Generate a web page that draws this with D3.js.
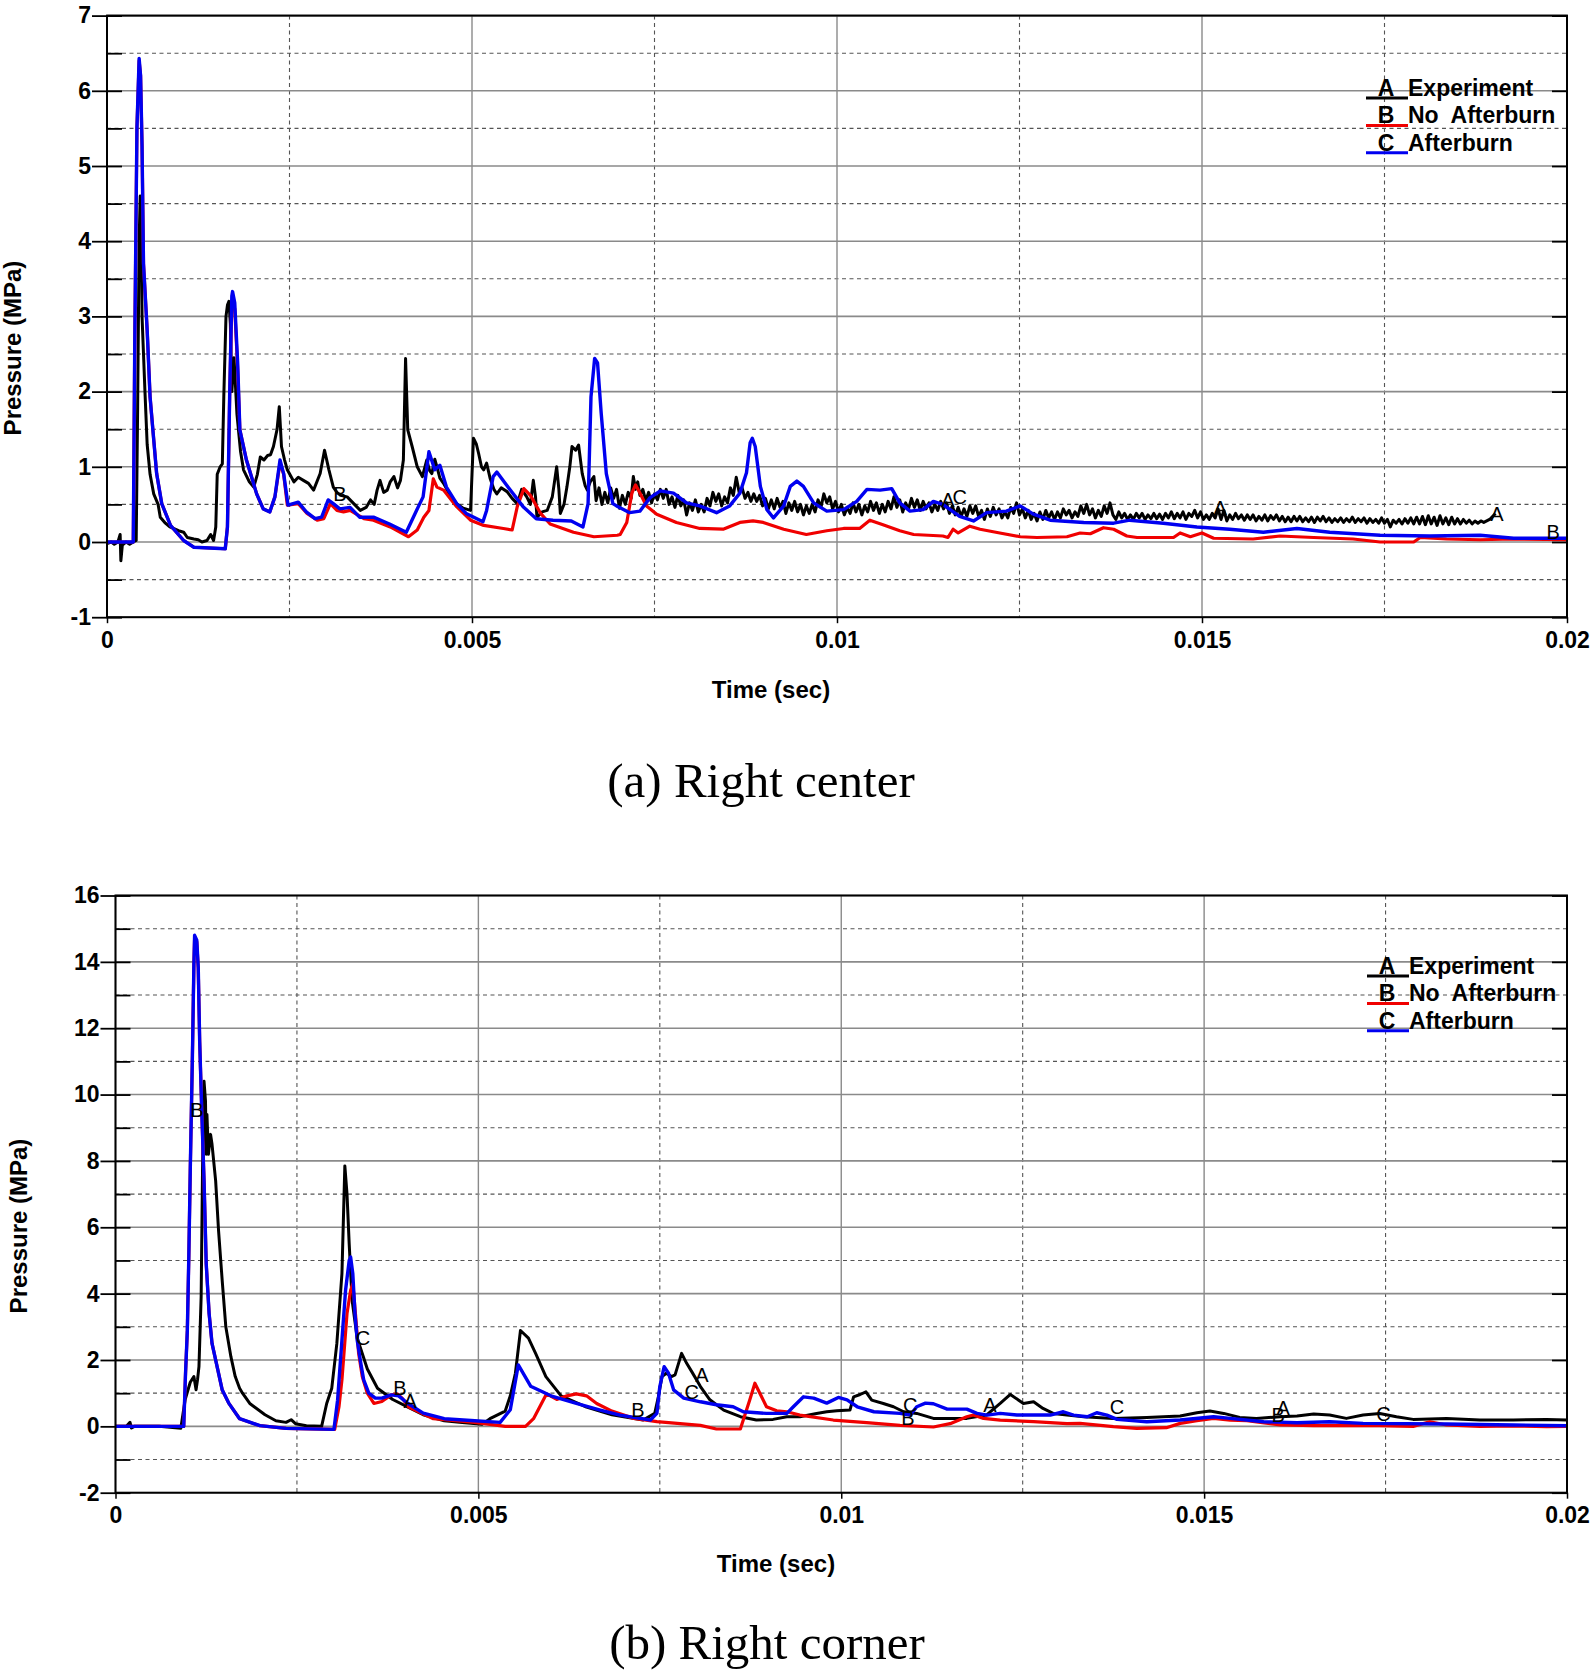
<!DOCTYPE html>
<html>
<head>
<meta charset="utf-8">
<script src="https://cdn.jsdelivr.net/npm/d3@7"></script>
<style>
  body { margin: 0; background: #fff; }
  text { font-family: "Liberation Sans", Arial, sans-serif; }
</style>
</head>
<body>
<script>
// ---- data (time in ms, pressure in MPa) ----
var xTickValues = [0, 5, 10, 15, 20];
var xTickLabels = ["0", "0.005", "0.01", "0.015", "0.02"];
var topYTicks = [-1, 0, 1, 2, 3, 4, 5, 6, 7];
var botYTicks = [-2, 0, 2, 4, 6, 8, 10, 12, 14, 16];

var seriesKeys = ["A", "B", "C"];
var seriesNames = ["Experiment", "No  Afterburn", "Afterburn"];
var captions = ["(a) Right center", "(b) Right corner"];

// (a) Right center
var topExperiment = [
  [0,-0.02],[0.06,0.0],[0.10,-0.03],[0.15,0.0],[0.18,0.10],[0.19,-0.25],[0.21,-0.04],[0.26,0.0],[0.31,-0.03],[0.36,0.0],
  [0.40,0.02],[0.42,1.8],[0.44,4.0],[0.455,4.6],[0.47,4.3],[0.48,3.0],[0.50,2.5],[0.52,2.0],[0.55,1.3],[0.59,0.9],
  [0.64,0.64],[0.70,0.5],[0.73,0.33],[0.80,0.25],[0.86,0.2],[0.91,0.18],[0.98,0.15],[1.05,0.13],[1.10,0.06],[1.19,0.04],
  [1.25,0.03],[1.30,0.0],[1.37,0.02],[1.42,0.10],[1.46,0.02],[1.49,0.2],[1.51,0.9],[1.55,1.0],[1.58,1.04],[1.60,1.93],
  [1.63,3.0],[1.65,3.15],[1.67,3.2],[1.69,2.9],[1.71,2.0],[1.74,2.45],[1.78,1.7],[1.83,1.2],[1.87,0.96],[1.95,0.8],
  [2.01,0.73],[2.06,0.9],[2.10,1.13],[2.15,1.09],[2.20,1.15],[2.24,1.16],[2.28,1.27],[2.33,1.5],[2.36,1.8],[2.39,1.27],
  [2.43,1.1],[2.47,0.96],[2.56,0.8],[2.62,0.86],[2.69,0.82],[2.76,0.78],[2.83,0.69],[2.92,0.91],[2.98,1.22],[3.04,0.96],
  [3.10,0.73],[3.15,0.66],[3.20,0.62],[3.29,0.6],[3.38,0.51],[3.47,0.42],[3.55,0.46],[3.61,0.56],[3.66,0.5],[3.70,0.69],
  [3.74,0.82],[3.79,0.66],[3.84,0.69],[3.88,0.8],[3.93,0.87],[3.98,0.72],[4.02,0.82],[4.06,1.09],[4.08,2.0],[4.09,2.44],
  [4.11,1.8],[4.12,1.49],[4.18,1.27],[4.25,1.0],[4.32,0.87],[4.38,1.09],[4.42,0.95],[4.45,0.91],[4.49,1.1],[4.52,1.0],
  [4.56,0.85],[4.61,0.78],[4.70,0.62],[4.79,0.51],[4.88,0.45],[4.98,0.42],[5.00,0.9],[5.02,1.38],[5.06,1.3],[5.09,1.18],
  [5.13,1.0],[5.16,0.96],[5.20,1.05],[5.25,0.84],[5.30,0.7],[5.34,0.64],[5.40,0.72],[5.48,0.67],[5.55,0.58],[5.62,0.51],
  [5.68,0.7],[5.75,0.6],[5.80,0.5],[5.84,0.82],[5.87,0.6],[5.89,0.33],[5.96,0.4],[6.03,0.42],[6.10,0.6],[6.16,1.0],
  [6.19,0.7],[6.21,0.38],[6.26,0.5],[6.30,0.73],[6.34,1.0],[6.37,1.27],[6.42,1.22],[6.46,1.29],[6.51,0.91],[6.55,0.75],
  [6.58,0.69],[6.62,0.8],[6.67,0.87],
  [6.70,0.55],[6.74,0.72],[6.78,0.50],[6.82,0.66],[6.86,0.52],[6.90,0.72],[6.94,0.58],[6.98,0.70],[7.02,0.45],[7.06,0.62],
  [7.10,0.50],[7.14,0.66],[7.18,0.58],[7.21,0.87],[7.24,0.70],[7.27,0.80],[7.30,0.62],[7.34,0.70],[7.38,0.55],[7.42,0.66],
  [7.46,0.52],[7.50,0.64],[7.54,0.56],[7.58,0.70],[7.62,0.58],[7.66,0.70],[7.70,0.50],[7.74,0.60],[7.78,0.46],[7.82,0.62],
  [7.86,0.48],[7.90,0.56],[7.94,0.36],[7.98,0.52],[8.02,0.42],[8.06,0.56],[8.10,0.40],[8.14,0.50],[8.18,0.40],[8.22,0.58],
  [8.26,0.48],[8.30,0.66],[8.34,0.54],[8.38,0.64],[8.42,0.48],[8.46,0.60],[8.50,0.52],[8.54,0.72],[8.58,0.62],[8.62,0.86],
  [8.66,0.66],[8.70,0.72],[8.74,0.58],[8.78,0.66],[8.82,0.54],[8.86,0.64],[8.90,0.54],[8.94,0.62],[8.98,0.48],[9.02,0.58],
  [9.06,0.44],[9.10,0.56],[9.14,0.44],[9.18,0.58],[9.22,0.46],[9.26,0.54],[9.30,0.38],[9.34,0.52],[9.38,0.42],[9.42,0.54],
  [9.46,0.40],[9.50,0.50],[9.54,0.36],[9.58,0.48],[9.62,0.38],[9.66,0.50],[9.70,0.40],[9.74,0.56],[9.78,0.46],[9.82,0.64],
  [9.86,0.52],[9.90,0.60],[9.94,0.44],[9.98,0.54],[10.02,0.40],[10.06,0.50],[10.10,0.36],[10.14,0.46],[10.18,0.38],[10.22,0.52],
  [10.26,0.40],[10.30,0.50],[10.34,0.36],[10.38,0.48],[10.42,0.40],[10.46,0.54],[10.50,0.42],[10.54,0.52],[10.58,0.38],[10.62,0.50],
  [10.66,0.40],[10.70,0.54],[10.74,0.44],[10.78,0.60],[10.82,0.46],[10.86,0.56],[10.90,0.40],[10.94,0.52],[10.98,0.44],[11.02,0.58],
  [11.06,0.46],[11.10,0.56],[11.14,0.42],[11.18,0.54],[11.22,0.44],[11.26,0.52],[11.30,0.40],[11.34,0.50],[11.38,0.42],[11.42,0.54],
  [11.46,0.44],[11.50,0.52],[11.54,0.38],[11.58,0.48],[11.62,0.36],[11.66,0.46],[11.70,0.34],[11.74,0.44],[11.78,0.34],[11.82,0.48],
  [11.86,0.38],[11.90,0.48],[11.94,0.34],[11.98,0.42],[12.02,0.30],[12.06,0.44],[12.10,0.34],[12.14,0.46],[12.18,0.36],[12.22,0.44],
  [12.26,0.32],[12.30,0.40],[12.34,0.32],[12.38,0.46],[12.42,0.38],[12.46,0.52],[12.50,0.36],[12.54,0.44],[12.58,0.32],[12.62,0.42],
  [12.66,0.30],[12.70,0.38],[12.74,0.28],[12.78,0.40],[12.82,0.30],[12.86,0.42],[12.90,0.32],[12.94,0.40],[12.98,0.30],[13.02,0.40],
  [13.06,0.32],[13.10,0.44],[13.14,0.36],[13.18,0.42],[13.22,0.32],[13.26,0.40],[13.30,0.34],[13.34,0.48],[13.38,0.38],[13.42,0.50],
  [13.46,0.36],[13.50,0.44],[13.54,0.32],[13.58,0.42],[13.62,0.34],[13.66,0.48],[13.70,0.38],[13.74,0.52],[13.78,0.36],[13.82,0.30],
  [13.86,0.40],[13.90,0.32],[13.94,0.38],[13.98,0.30],[14.02,0.36],[14.06,0.30],[14.10,0.38],[14.14,0.32],[14.18,0.38],[14.22,0.30],
  [14.26,0.36],[14.30,0.31],[14.34,0.38],[14.38,0.31],[14.42,0.37],[14.46,0.30],[14.50,0.38],[14.54,0.32],[14.58,0.40],[14.62,0.31],
  [14.66,0.38],[14.70,0.32],[14.74,0.40],[14.78,0.30],[14.82,0.38],[14.86,0.34],[14.90,0.42],[14.94,0.32],[14.98,0.40],[15.02,0.30],
  [15.06,0.36],[15.10,0.30],[15.14,0.38],[15.18,0.32],[15.22,0.44],[15.26,0.30],[15.30,0.42],[15.34,0.28],[15.38,0.36],[15.42,0.30],
  [15.46,0.38],[15.50,0.31],[15.54,0.36],[15.58,0.29],[15.62,0.36],[15.66,0.30],[15.70,0.36],[15.74,0.28],[15.78,0.34],[15.82,0.29],
  [15.86,0.36],[15.90,0.28],[15.94,0.35],[15.98,0.30],[16.02,0.36],[16.06,0.28],[16.10,0.34],[16.14,0.27],[16.18,0.33],[16.22,0.27],
  [16.26,0.34],[16.30,0.28],[16.34,0.34],[16.38,0.27],[16.42,0.32],[16.46,0.27],[16.50,0.33],[16.54,0.26],[16.58,0.33],[16.62,0.28],
  [16.66,0.34],[16.70,0.27],[16.74,0.32],[16.78,0.26],[16.82,0.31],[16.86,0.27],[16.90,0.32],[16.94,0.26],[16.98,0.31],[17.02,0.27],
  [17.06,0.33],[17.10,0.26],[17.14,0.31],[17.18,0.27],[17.22,0.32],[17.26,0.25],[17.30,0.31],[17.34,0.26],[17.38,0.30],[17.42,0.25],
  [17.46,0.32],[17.50,0.25],[17.54,0.30],[17.58,0.20],[17.62,0.29],[17.66,0.25],[17.70,0.30],[17.74,0.24],[17.78,0.31],[17.82,0.25],
  [17.86,0.32],[17.90,0.24],[17.94,0.33],[17.98,0.24],[18.02,0.34],[18.06,0.23],[18.10,0.35],[18.14,0.24],[18.18,0.33],[18.22,0.22],
  [18.26,0.35],[18.30,0.24],[18.34,0.32],[18.38,0.23],[18.42,0.33],[18.46,0.24],[18.50,0.31],[18.54,0.24],[18.58,0.30],[18.62,0.25],
  [18.66,0.29],[18.70,0.24],[18.74,0.28],[18.78,0.25],[18.82,0.28],[18.86,0.26],[18.90,0.28],[18.94,0.30],[18.98,0.34],[19.02,0.38]
];

var topNoAfterburn = [
  [0,0],[0.36,0],[0.38,2.6],[0.41,5.5],[0.44,6.4],[0.46,6.2],[0.48,5.27],[0.50,3.7],[0.55,2.82],[0.59,1.93],
  [0.64,1.36],[0.68,0.91],[0.75,0.51],[0.87,0.22],[1.05,0.02],[1.19,-0.07],[1.62,-0.09],[1.65,0.2],[1.68,1.93],[1.71,3.2],
  [1.75,3.1],[1.79,2.3],[1.82,1.49],[1.91,1.09],[2.05,0.64],[2.14,0.44],[2.23,0.40],[2.30,0.60],[2.37,1.05],[2.42,0.9],
  [2.47,0.49],[2.62,0.51],[2.74,0.38],[2.88,0.29],[2.97,0.31],[3.06,0.51],[3.15,0.42],[3.24,0.40],[3.33,0.42],[3.52,0.31],
  [3.65,0.29],[3.88,0.20],[4.13,0.07],[4.25,0.16],[4.34,0.33],[4.41,0.42],[4.47,0.84],[4.52,0.73],[4.61,0.69],[4.79,0.47],
  [4.98,0.29],[5.16,0.22],[5.43,0.18],[5.55,0.16],[5.62,0.47],[5.71,0.71],[5.80,0.62],[5.94,0.38],[6.07,0.24],[6.39,0.13],
  [6.67,0.07],[6.99,0.09],[7.03,0.10],[7.12,0.26],[7.19,0.65],[7.24,0.76],[7.30,0.65],[7.39,0.48],[7.53,0.37],[7.80,0.26],
  [8.12,0.18],[8.44,0.17],[8.67,0.26],[8.85,0.28],[8.99,0.26],[9.27,0.17],[9.58,0.10],[9.86,0.15],[10.09,0.18],[10.31,0.18],
  [10.45,0.29],[10.63,0.23],[10.86,0.15],[11.05,0.10],[11.45,0.08],[11.52,0.06],[11.59,0.17],[11.66,0.12],[11.82,0.21],[11.96,0.17],
  [12.23,0.12],[12.51,0.07],[12.74,0.06],[13.15,0.07],[13.33,0.12],[13.47,0.11],[13.65,0.19],[13.79,0.17],[13.97,0.08],[14.11,0.06],
  [14.61,0.06],[14.70,0.12],[14.84,0.07],[15.00,0.12],[15.16,0.05],[15.70,0.04],[16.07,0.08],[16.53,0.06],[17.07,0.04],[17.44,0.00],
  [17.90,0.00],[17.99,0.06],[18.35,0.04],[18.81,0.03],[19.27,0.04],[20.0,0.03]
];

var topAfterburn = [
  [0,0],[0.36,0],[0.38,2.6],[0.41,5.5],[0.44,6.43],[0.46,6.2],[0.48,5.27],[0.50,3.7],[0.55,2.82],[0.59,1.93],
  [0.64,1.36],[0.68,0.91],[0.75,0.51],[0.87,0.22],[1.05,0.02],[1.19,-0.07],[1.62,-0.09],[1.65,0.2],[1.68,1.93],[1.71,3.27],
  [1.72,3.33],[1.75,3.18],[1.79,2.38],[1.82,1.49],[1.91,1.09],[2.05,0.64],[2.14,0.44],[2.23,0.40],[2.30,0.60],[2.37,1.09],
  [2.42,0.91],[2.48,0.49],[2.62,0.53],[2.73,0.40],[2.85,0.31],[2.94,0.33],[3.03,0.56],[3.10,0.51],[3.19,0.44],[3.33,0.46],
  [3.46,0.33],[3.65,0.33],[3.87,0.24],[4.10,0.13],[4.24,0.42],[4.33,0.60],[4.41,1.20],[4.49,0.96],[4.56,1.02],[4.65,0.73],
  [4.79,0.51],[4.92,0.38],[5.15,0.27],[5.20,0.42],[5.29,0.87],[5.34,0.93],[5.47,0.76],[5.70,0.47],[5.88,0.31],[6.11,0.29],
  [6.36,0.28],[6.52,0.20],[6.59,0.51],[6.63,1.93],[6.68,2.44],[6.72,2.38],[6.77,1.71],[6.84,0.91],[6.93,0.51],[6.98,0.48],
  [7.16,0.39],[7.30,0.41],[7.44,0.59],[7.58,0.68],[7.76,0.65],[7.94,0.52],[8.12,0.48],[8.35,0.39],[8.53,0.48],[8.67,0.65],
  [8.76,0.92],[8.81,1.32],[8.84,1.38],[8.88,1.27],[8.95,0.74],[9.04,0.43],[9.13,0.32],[9.27,0.48],[9.36,0.74],[9.45,0.81],
  [9.54,0.74],[9.68,0.52],[9.86,0.41],[10.09,0.43],[10.27,0.54],[10.41,0.70],[10.59,0.69],[10.75,0.71],[10.86,0.52],[11.00,0.41],
  [11.18,0.43],[11.32,0.54],[11.45,0.50],[11.68,0.34],[11.87,0.28],[12.05,0.39],[12.32,0.41],[12.51,0.48],[12.69,0.37],[12.92,0.29],
  [13.38,0.26],[13.79,0.25],[14.01,0.29],[14.47,0.25],[14.93,0.20],[15.38,0.17],[15.84,0.13],[16.30,0.18],[16.75,0.13],[17.44,0.09],
  [18.12,0.08],[18.81,0.09],[19.27,0.05],[20.0,0.05]
];

var topMarkers = [["B",3.19,0.64],["A",11.52,0.56],["C",11.68,0.60],["A",15.25,0.45],["A",19.04,0.37],["B",19.81,0.13]];

// (b) Right corner
var botExperiment = [
  [0,0],[0.15,0.0],[0.20,0.12],[0.22,-0.05],[0.26,0.0],[0.60,0.0],[0.90,-0.06],[0.96,0.81],[1.03,1.33],[1.08,1.5],
  [1.11,1.1],[1.13,1.4],[1.15,1.8],[1.18,3.9],[1.20,7.9],[1.22,10.4],[1.24,9.8],[1.25,8.2],[1.26,9.4],[1.28,8.2],
  [1.31,8.8],[1.33,8.5],[1.38,7.4],[1.42,5.9],[1.47,4.4],[1.52,3.0],[1.59,2.1],[1.65,1.5],[1.71,1.15],[1.75,1.0],
  [1.85,0.69],[2.06,0.35],[2.21,0.17],[2.35,0.12],[2.42,0.2],[2.48,0.08],[2.63,0.02],[2.84,0.0],[2.91,0.69],[2.98,1.15],
  [3.05,2.5],[3.12,4.6],[3.16,7.85],[3.19,7.0],[3.22,5.5],[3.26,3.8],[3.33,2.66],[3.47,1.73],[3.61,1.15],[3.82,0.81],
  [4.03,0.58],[4.24,0.35],[4.53,0.17],[4.74,0.12],[5.05,0.06],[5.16,0.23],[5.37,0.46],[5.44,0.92],[5.51,1.6],[5.58,2.89],
  [5.69,2.66],[5.79,2.19],[5.93,1.5],[6.14,0.92],[6.49,0.58],[6.84,0.35],[7.27,0.19],[7.43,0.39],[7.48,0.89],[7.53,1.5],
  [7.59,1.6],[7.66,1.5],[7.71,1.55],[7.80,2.2],[7.87,1.9],[7.94,1.65],[8.06,1.2],[8.19,0.8],[8.38,0.49],[8.61,0.29],
  [8.83,0.19],[9.06,0.21],[9.25,0.29],[9.43,0.29],[9.66,0.39],[9.80,0.44],[9.94,0.47],[10.12,0.49],[10.17,0.89],[10.26,0.96],
  [10.34,1.04],[10.42,0.79],[10.58,0.69],[10.72,0.59],[10.86,0.44],[11.04,0.39],[11.27,0.24],[11.73,0.24],[12.00,0.34],[12.19,0.69],
  [12.33,0.96],[12.51,0.69],[12.65,0.74],[12.78,0.54],[12.92,0.39],[13.11,0.34],[13.34,0.29],[13.75,0.24],[14.21,0.27],[14.67,0.31],
  [14.90,0.41],[15.08,0.46],[15.27,0.39],[15.49,0.27],[15.72,0.24],[16.05,0.29],[16.28,0.31],[16.51,0.37],[16.73,0.34],[16.96,0.24],
  [17.19,0.34],[17.42,0.39],[17.65,0.29],[17.88,0.21],[18.34,0.24],[18.80,0.19],[19.26,0.19],[19.72,0.21],[20.0,0.19]
];

var botNoAfterburn = [
  [0,0],[0.94,0],[0.965,1.6],[0.99,2.9],[1.01,5.1],[1.03,7.7],[1.06,11.2],[1.08,13.9],[1.09,14.7],[1.12,14.6],
  [1.14,13.8],[1.16,11.6],[1.19,9.4],[1.22,7.4],[1.25,4.9],[1.29,3.4],[1.33,2.5],[1.40,1.8],[1.47,1.1],[1.56,0.7],
  [1.71,0.23],[1.99,0.02],[2.35,-0.06],[3.02,-0.09],[3.08,0.6],[3.12,1.4],[3.19,3.4],[3.24,4.1],[3.27,4.3],[3.31,3.3],
  [3.35,2.2],[3.40,1.5],[3.47,1.0],[3.56,0.69],[3.67,0.75],[3.80,0.95],[3.88,0.98],[3.95,0.85],[4.04,0.58],[4.38,0.23],
  [4.95,0.12],[5.37,0.0],[5.65,0.0],[5.76,0.23],[5.94,0.98],[6.08,0.81],[6.22,0.92],[6.35,0.98],[6.49,0.92],[6.63,0.69],
  [6.84,0.46],[7.14,0.24],[7.46,0.14],[8.06,0.03],[8.28,-0.08],[8.61,-0.08],[8.65,0.19],[8.74,0.8],[8.81,1.3],[8.88,0.99],
  [8.97,0.59],[9.11,0.47],[9.25,0.44],[9.43,0.34],[9.89,0.19],[10.35,0.11],[10.81,0.03],[11.27,-0.02],[11.50,0.08],[11.73,0.29],
  [11.82,0.34],[11.96,0.24],[12.19,0.19],[12.65,0.14],[13.11,0.08],[13.29,0.09],[13.75,-0.01],[14.07,-0.06],[14.48,-0.04],[14.67,0.09],
  [14.90,0.17],[15.13,0.24],[15.36,0.19],[15.59,0.17],[16.05,0.04],[16.51,0.02],[16.97,0.02],[17.42,0.02],[17.88,0.0],[18.11,0.14],
  [18.34,0.04],[18.80,0.0],[19.26,0.01],[19.72,-0.01],[20.0,0.0]
];

var botAfterburn = [
  [0,0],[0.94,0],[0.965,1.6],[0.99,2.9],[1.01,5.1],[1.03,7.7],[1.06,11.2],[1.08,13.9],[1.09,14.8],[1.12,14.65],
  [1.14,13.85],[1.16,11.6],[1.19,9.4],[1.22,7.4],[1.25,4.9],[1.29,3.4],[1.33,2.5],[1.40,1.8],[1.47,1.1],[1.56,0.7],
  [1.71,0.23],[1.99,0.02],[2.35,-0.06],[3.01,-0.09],[3.06,0.79],[3.12,2.6],[3.17,4.1],[3.22,5.0],[3.24,5.1],[3.27,4.6],
  [3.30,3.4],[3.33,2.6],[3.38,1.9],[3.42,1.4],[3.49,1.0],[3.58,0.85],[3.67,0.85],[3.80,0.95],[3.90,0.92],[4.03,0.69],
  [4.24,0.40],[4.53,0.23],[4.95,0.17],[5.30,0.12],[5.44,0.5],[5.55,1.85],[5.72,1.21],[6.00,0.92],[6.35,0.69],[6.68,0.49],
  [6.95,0.34],[7.37,0.19],[7.46,0.39],[7.50,1.2],[7.56,1.8],[7.62,1.6],[7.69,1.1],[7.83,0.85],[8.06,0.74],[8.28,0.65],
  [8.51,0.59],[8.65,0.44],[8.97,0.39],[9.25,0.39],[9.34,0.59],[9.48,0.89],[9.62,0.85],[9.80,0.70],[9.96,0.87],[10.08,0.80],
  [10.22,0.59],[10.45,0.44],[10.81,0.39],[10.95,0.34],[11.04,0.59],[11.16,0.70],[11.27,0.68],[11.46,0.52],[11.73,0.52],[11.87,0.39],
  [12.01,0.34],[12.19,0.39],[12.42,0.34],[12.88,0.34],[13.06,0.44],[13.20,0.34],[13.39,0.29],[13.52,0.41],[13.66,0.34],[13.80,0.21],
  [14.21,0.14],[14.67,0.19],[15.13,0.29],[15.36,0.24],[15.82,0.14],[16.28,0.11],[16.73,0.14],[17.19,0.09],[18.34,0.07],[19.26,0.04],
  [20.0,0.02]
];

var botMarkers = [["B",1.123,9.55],["C",3.41,2.67],["B",3.92,1.16],["A",4.06,0.77],["B",7.20,0.49],["A",8.08,1.55],
  ["C",7.94,1.04],["C",10.95,0.65],["B",10.92,0.25],["A",12.05,0.65],["C",13.80,0.59],["A",16.09,0.56],
  ["B",16.02,0.34],["C",17.47,0.37]];

// ---- styles / layout ----
var seriesColors = ["#000000", "#f00000", "#0000f0"];
var seriesWidths = [3, 3.2, 3.4];

var svgWidth = 1594, svgHeight = 1678;
var svg = d3.select("body").append("svg")
  .attr("width", svgWidth)
  .attr("height", svgHeight);

var panels = [
  { left: 107, right: 1567, top: 15.6, bottom: 617.2, yTicks: topYTicks,
    series: [topExperiment, topNoAfterburn, topAfterburn], markers: topMarkers,
    legendX: 1366, legendY: 98, titleX: 771, titleY: 698, yTitleX: 21, yTitleY: 348,
    caption: captions[0], captionX: 761, captionY: 797 },
  { left: 115.5, right: 1567, top: 895.5, bottom: 1492.7, yTicks: botYTicks,
    series: [botExperiment, botNoAfterburn, botAfterburn], markers: botMarkers,
    legendX: 1367, legendY: 976, titleX: 776, titleY: 1572, yTitleX: 27, yTitleY: 1226,
    caption: captions[1], captionX: 767, captionY: 1659 }
];

panels.forEach(function(p, idx) {
  var x = d3.scaleLinear().domain([0, 20]).range([p.left, p.right]);
  var y = d3.scaleLinear().domain([p.yTicks[0], p.yTicks[p.yTicks.length - 1]]).range([p.bottom, p.top]);
  var yMinor = d3.pairs(p.yTicks).map(d => (d[0] + d[1]) / 2);
  var xMinor = d3.pairs(xTickValues).map(d => (d[0] + d[1]) / 2);
  var g = svg.append("g");

  // dashed minor grid
  g.selectAll("line.hmin").data(yMinor).enter().append("line")
    .attr("x1", p.left).attr("x2", p.right)
    .attr("y1", d => y(d)).attr("y2", d => y(d))
    .attr("stroke", "#555").attr("stroke-width", 1.1).attr("stroke-dasharray", "4,3.5");
  g.selectAll("line.vmin").data(xMinor).enter().append("line")
    .attr("x1", d => x(d)).attr("x2", d => x(d))
    .attr("y1", p.top).attr("y2", p.bottom)
    .attr("stroke", "#555").attr("stroke-width", 1.1).attr("stroke-dasharray", "4,3.5");

  // solid major grid
  g.selectAll("line.hmaj").data(p.yTicks).enter().append("line")
    .attr("x1", p.left).attr("x2", p.right)
    .attr("y1", d => y(d)).attr("y2", d => y(d))
    .attr("stroke", "#8a8a8a").attr("stroke-width", 1.6);
  g.selectAll("line.vmaj").data(xTickValues).enter().append("line")
    .attr("x1", d => x(d)).attr("x2", d => x(d))
    .attr("y1", p.top).attr("y2", p.bottom)
    .attr("stroke", "#8a8a8a").attr("stroke-width", 1.4);

  // inner ticks
  g.append("g").attr("transform", `translate(${p.left},0)`)
    .call(d3.axisRight(y).tickValues(p.yTicks.concat(yMinor)).tickSize(15).tickFormat(""))
    .call(a => a.select(".domain").remove())
    .selectAll("line").attr("stroke", "#000").attr("stroke-width", 1.8);
  g.append("g").attr("transform", `translate(${p.right},0)`)
    .call(d3.axisLeft(y).tickValues(p.yTicks).tickSize(15).tickFormat(""))
    .call(a => a.select(".domain").remove())
    .selectAll("line").attr("stroke", "#000").attr("stroke-width", 1.8);

  // series lines
  var clipId = "clip" + idx;
  svg.append("clipPath").attr("id", clipId).append("rect")
    .attr("x", p.left).attr("y", p.top)
    .attr("width", p.right - p.left).attr("height", p.bottom - p.top);
  var line = d3.line().x(d => x(d[0])).y(d => y(d[1]));
  p.series.forEach(function(s, i) {
    g.append("path").datum(s)
      .attr("clip-path", `url(#${clipId})`)
      .attr("d", line)
      .attr("fill", "none")
      .attr("stroke", seriesColors[i])
      .attr("stroke-width", seriesWidths[i])
      .attr("stroke-linejoin", "round");
  });

  // letter markers on curves
  g.selectAll("text.mark").data(p.markers).enter().append("text")
    .attr("x", d => x(d[1])).attr("y", d => y(d[2]))
    .attr("dy", "0.36em")
    .attr("text-anchor", "middle")
    .attr("font-size", 20)
    .attr("fill", "#000")
    .text(d => d[0]);

  // frame
  g.append("rect")
    .attr("x", p.left).attr("y", p.top)
    .attr("width", p.right - p.left).attr("height", p.bottom - p.top)
    .attr("fill", "none").attr("stroke", "#000").attr("stroke-width", 2);

  // axes with labels
  var yAxis = g.append("g").attr("transform", `translate(${p.left},0)`)
    .call(d3.axisLeft(y).tickValues(p.yTicks).tickSize(15).tickPadding(1).tickFormat(d => String(d)));
  yAxis.select(".domain").remove();
  yAxis.selectAll("line").attr("stroke", "#000").attr("stroke-width", 1.8);
  yAxis.selectAll("text").attr("font-size", 23).attr("font-weight", "bold")
    .attr("font-family", "'Liberation Sans', Arial, sans-serif").attr("fill", "#000");

  var xAxis = g.append("g").attr("transform", `translate(0,${p.bottom})`)
    .call(d3.axisBottom(x).tickValues(xTickValues).tickSize(6).tickPadding(8)
      .tickFormat((d, i) => xTickLabels[i]));
  xAxis.select(".domain").remove();
  xAxis.selectAll("line").attr("stroke", "#000").attr("stroke-width", 1.5);
  xAxis.selectAll("text").attr("font-size", 23).attr("font-weight", "bold")
    .attr("font-family", "'Liberation Sans', Arial, sans-serif").attr("fill", "#000");

  // axis titles
  g.append("text")
    .attr("x", p.titleX).attr("y", p.titleY)
    .attr("text-anchor", "middle")
    .attr("font-size", 24).attr("font-weight", "bold")
    .text("Time (sec)");
  g.append("text")
    .attr("transform", `translate(${p.yTitleX},${p.yTitleY}) rotate(-90)`)
    .attr("text-anchor", "middle")
    .attr("font-size", 24).attr("font-weight", "bold")
    .text("Pressure (MPa)");

  // legend
  seriesNames.forEach(function(name, i) {
    var ly = p.legendY + i * 27.4;
    g.append("line")
      .attr("x1", p.legendX).attr("x2", p.legendX + 42)
      .attr("y1", ly).attr("y2", ly)
      .attr("stroke", seriesColors[i]).attr("stroke-width", 3);
    g.append("text")
      .attr("x", p.legendX + 20).attr("y", ly - 2)
      .attr("text-anchor", "middle")
      .attr("font-size", 23).attr("font-weight", "bold")
      .text(seriesKeys[i]);
    g.append("text")
      .attr("x", p.legendX + 42).attr("y", ly - 2)
      .attr("font-size", 23).attr("font-weight", "bold")
      .style("white-space", "pre")
      .text(name);
  });

  // caption
  svg.append("text")
    .attr("x", p.captionX).attr("y", p.captionY)
    .attr("text-anchor", "middle")
    .style("font-family", "'Liberation Serif', 'Times New Roman', serif")
    .attr("font-size", 49)
    .text(p.caption);
});
</script>
</body>
</html>
